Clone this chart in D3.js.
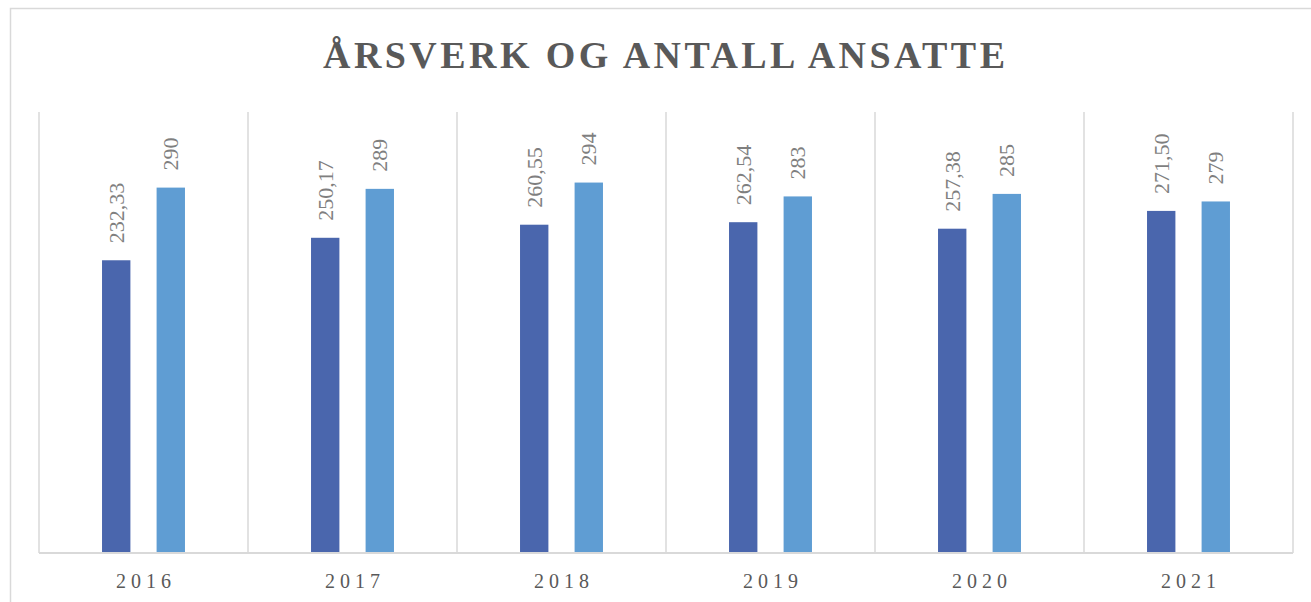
<!DOCTYPE html>
<html>
<head>
<meta charset="utf-8">
<script src="https://cdn.jsdelivr.net/npm/d3@7"></script>
<style>
  body { margin: 0; background: #ffffff; }
  svg { display: block; }
</style>
</head>
<body>
<div id="chart"></div>
<script>
// data
var years = ["2016", "2017", "2018", "2019", "2020", "2021"];
var series = ["Årsverk", "Antall ansatte"];
var arsverk = [232.33, 250.17, 260.55, 262.54, 257.38, 271.50];
var ansatte = [290, 289, 294, 283, 285, 279];
var colors = ["#4a66ad", "#5f9dd3"];

var width = 1311, height = 602;
var svg = d3.select("#chart").append("svg")
  .attr("width", width)
  .attr("height", height);

// outer chart border (right side runs past the window)
svg.append("rect")
  .attr("x", 10.5).attr("y", 8.5)
  .attr("width", 1320).attr("height", 620)
  .attr("fill", "#ffffff")
  .attr("stroke", "#d9d9d9")
  .attr("stroke-width", 1.5);

// title
svg.append("text")
  .attr("x", 323)
  .attr("y", 68)
  .attr("textLength", 682)
  .attr("lengthAdjust", "spacing")
  .style("font-family", "'Liberation Serif', 'DejaVu Serif', serif")
  .style("font-weight", "bold")
  .style("font-size", "38px")
  .style("fill", "#595959")
  .text("ÅRSVERK OG ANTALL ANSATTE");

var plot = { left: 39, right: 1293, top: 112, bottom: 553 };

var x0 = d3.scaleBand().domain(years).range([plot.left, plot.right]).padding(0);
var x1 = d3.scaleBand().domain(series).range([0, x0.bandwidth()])
  .paddingInner(0.48).paddingOuter(1.155);
var y = d3.scaleLinear().domain([0, 350]).range([plot.bottom, plot.top]);

// vertical separators between categories
var edges = years.map(function (d) { return x0(d); }).concat([plot.right]);
svg.append("g").selectAll("line")
  .data(edges)
  .enter().append("line")
  .attr("x1", function (d) { return d; })
  .attr("x2", function (d) { return d; })
  .attr("y1", plot.top)
  .attr("y2", plot.bottom)
  .attr("stroke", "#d9d9d9")
  .attr("stroke-width", 1.5);

// rows for the bars
var rows = years.map(function (yr, i) {
  return { year: yr, values: [arsverk[i], ansatte[i]] };
});

var groups = svg.append("g").selectAll("g")
  .data(rows)
  .enter().append("g")
  .attr("transform", function (d) { return "translate(" + x0(d.year) + ",0)"; });

groups.selectAll("rect")
  .data(function (d) {
    return d.values.map(function (v, j) { return { key: series[j], value: v, idx: j }; });
  })
  .enter().append("rect")
  .attr("x", function (d) { return x1(d.key); })
  .attr("y", function (d) { return y(d.value); })
  .attr("width", x1.bandwidth())
  .attr("height", function (d) { return plot.bottom - y(d.value); })
  .attr("fill", function (d) { return colors[d.idx]; });

// value labels, rotated
var fmt = function (d) {
  return d.idx === 0 ? d.value.toFixed(2).replace(".", ",") : String(d.value);
};
groups.selectAll("text")
  .data(function (d) {
    return d.values.map(function (v, j) { return { key: series[j], value: v, idx: j }; });
  })
  .enter().append("text")
  .attr("transform", function (d) {
    var cx = x1(d.key) + x1.bandwidth() / 2;
    return "translate(" + cx + "," + (y(d.value) - 17) + ") rotate(-90)";
  })
  .attr("dy", "0.35em")
  .style("font-family", "'Liberation Serif', 'DejaVu Serif', serif")
  .style("font-size", "22px")
  .style("fill", "#7f7f7f")
  .text(fmt);

// x axis baseline
svg.append("line")
  .attr("x1", plot.left).attr("x2", plot.right)
  .attr("y1", plot.bottom).attr("y2", plot.bottom)
  .attr("stroke", "#d9d9d9")
  .attr("stroke-width", 2);

// year labels
var spacing = 5;
svg.append("g").selectAll("text")
  .data(years)
  .enter().append("text")
  .attr("x", function (d) { return x0(d) + x0.bandwidth() / 2 + spacing / 2; })
  .attr("y", 588)
  .attr("text-anchor", "middle")
  .style("font-family", "'Liberation Serif', 'DejaVu Serif', serif")
  .style("font-size", "20px")
  .style("letter-spacing", spacing + "px")
  .style("fill", "#595959")
  .text(function (d) { return d; });
</script>
</body>
</html>
